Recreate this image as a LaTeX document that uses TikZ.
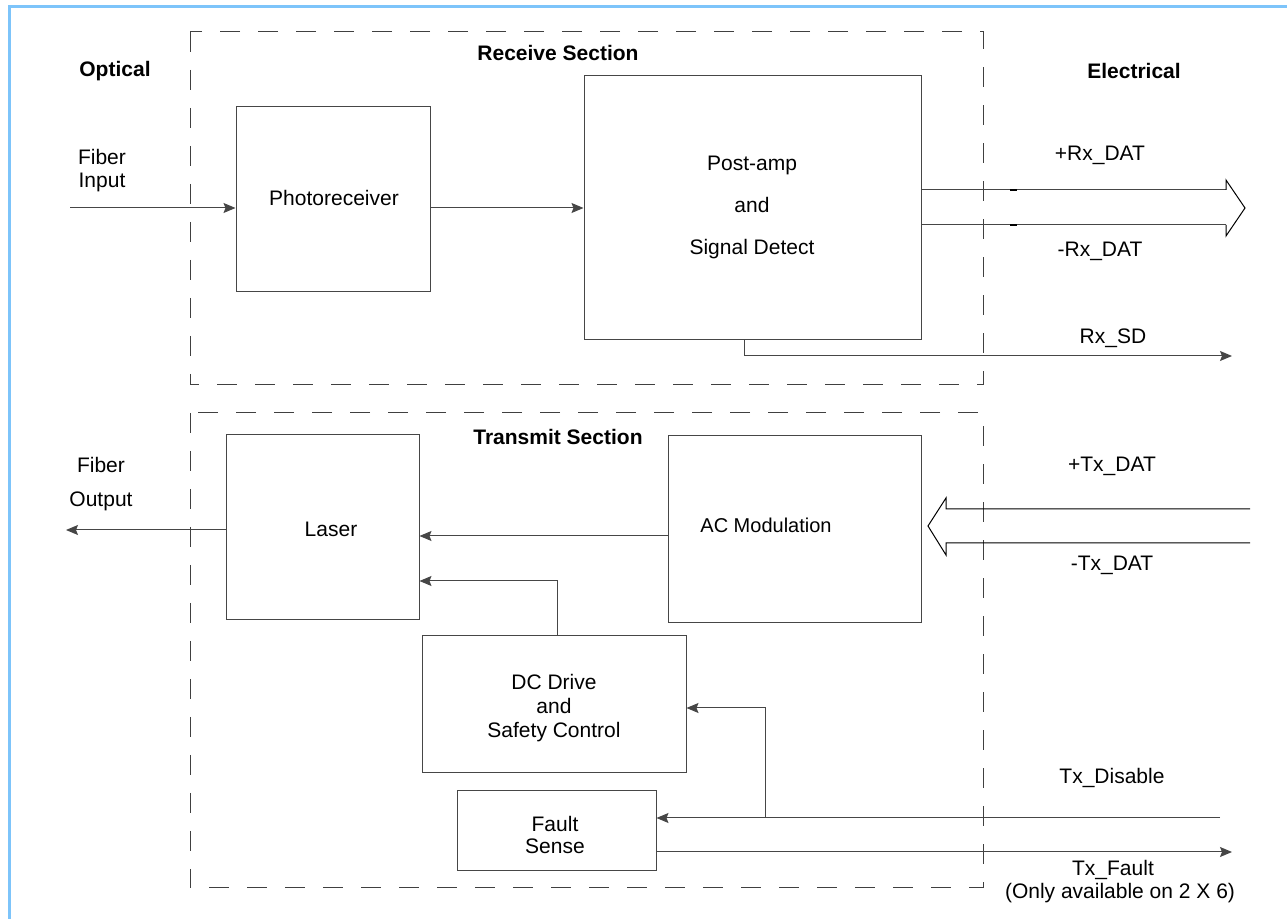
\documentclass[tikz,border=0pt]{standalone}
\usepackage{fontspec}
\setmainfont{Liberation Sans}
\usetikzlibrary{arrows.meta}
\definecolor{framecol}{RGB}{125,196,250}
\definecolor{linecol}{RGB}{70,70,70}
\begin{document}
\begin{tikzpicture}[x=0.5pt,y=-0.5pt,
  txt/.style={inner sep=0pt,align=center,font=\fontsize{10.5}{11.5}\selectfont},
  bold/.style={txt,font=\fontsize{10.5}{11.5}\selectfont\bfseries},
  blk/.style={draw=linecol,line width=0.5pt,inner sep=0pt},
  sect/.style={draw=black!75,line width=0.5pt,dash pattern=on 10pt off 9pt},
  wire/.style={draw=linecol,line width=0.5pt},
  arr/.style={wire,-{Stealth[length=6pt,width=5pt,inset=1pt]}},
  hollow/.style={draw=black,line width=0.5pt,line join=miter}]
\useasboundingbox (0,0) rectangle (1287,919);
\fill[white] (0,0) rectangle (1287,919);
% frame
\draw[framecol,line width=1.5pt] (9,919) -- (9,7) -- (1287,7);
% sections
\draw[sect] (190,32) rectangle (983,385);
\draw[sect] (190,413) rectangle (983,888);
% headings
\node[bold] (optical) at (115,71) {Optical};
\node[bold] (recv) at (558,53) {Receive Section};
\node[bold] (elec) at (1134,71) {Electrical};
\node[bold] (trans) at (558,437) {Transmit Section};
% blocks
\node[blk,minimum width=97pt,minimum height=92.5pt] (photo) at (333,199.5) {};
\node[txt] (photot) at (334,198) {Photoreceiver};
\node[blk,minimum width=168.5pt,minimum height=132pt] (post) at (752.5,208) {};
\node[txt,font=\fontsize{10.5}{21}\selectfont] (postt) at (752,207) {Post-amp\\and\\Signal Detect};
\node[blk,minimum width=96.5pt,minimum height=92.5pt] (laser) at (322.5,527.5) {};
\node[txt] (lasert) at (331,529) {Laser};
\node[blk,minimum width=126.5pt,minimum height=93.5pt] (ac) at (794.5,529.5) {};
\node[txt,font=\fontsize{10}{11}\selectfont] (act) at (766,525) {AC Modulation};
\node[blk,minimum width=132pt,minimum height=68.5pt] (dc) at (554,704.5) {};
\node[txt,font=\fontsize{10.5}{12}\selectfont] (dct) at (554,708) {DC Drive\\and\\Safety Control};
\node[blk,minimum width=99.5pt,minimum height=40pt] (fault) at (556.5,831) {};
\node[txt,font=\fontsize{10.5}{11}\selectfont] (faultt) at (555,835) {Fault\\Sense};
% side labels
\node[txt] (fin) at (102,171) {Fiber\\Input};
\node[txt] (fout1) at (101,465) {Fiber};
\node[txt] (fout2) at (101,501) {Output};
\node[txt] (prx) at (1100,155) {+Rx\_DAT};
\node[txt] (mrx) at (1100,251) {-Rx\_DAT};
\node[txt] (rxsd) at (1113,338) {Rx\_SD};
\node[txt] (ptx) at (1112,466) {+Tx\_DAT};
\node[txt] (mtx) at (1112,565) {-Tx\_DAT};
\node[txt] (txdis) at (1112,778) {Tx\_Disable};
\node[txt] (txf) at (1113,870) {Tx\_Fault};
\node[txt] (txfn) at (1120,893) {(Only available on 2 X 6)};
% free ends
\coordinate (finend) at (70,208);
\coordinate (foutend) at (66,530);
\coordinate (rxsdend) at (1232,356);
\coordinate (txdisend) at (1220,818);
\coordinate (txfend) at (1232,852);
\coordinate (rxhead) at (1226,208);
\coordinate (txhead) at (946,526);
% connectors
\draw[arr] (finend) -- (finend -| photo.west);
\draw[arr] (photo.east |- 0,208) -- (post.west |- 0,208);
\draw[wire] (post.east |- 0,190) -- (rxhead |- 0,190);
\draw[wire] (post.east |- 0,225) -- (rxhead |- 0,225);
\draw[line width=1.2pt] (1010,190) -- (1017,190);
\draw[line width=1.2pt] (1010,225) -- (1017,225);
\draw[hollow] (rxhead |- 0,190) -- (1226,180) -- (1245,208) -- (1226,236) -- (rxhead |- 0,225);
\draw[arr] (post.south -| 744,0) -- (744,356) -- (rxsdend);
\draw[arr] (laser.west |- 0,530) -- (foutend);
\draw[arr] (ac.west |- 0,536) -- (laser.east |- 0,536);
\draw[arr] (dc.north -| 557,0) -- (557,581) -- (laser.east |- 0,581);
\draw[hollow] (1250,509) -- (946,509) -- (946,498) -- (928,526) -- (946,555) -- (946,543) -- (1250,543);
\draw[arr] (txdisend) -- (fault.east |- txdisend);
\draw[arr] (765,818) -- (765,708) -- (dc.east |- 0,708);
\draw[arr] (fault.east |- txfend) -- (txfend);
\end{tikzpicture}
\end{document}
